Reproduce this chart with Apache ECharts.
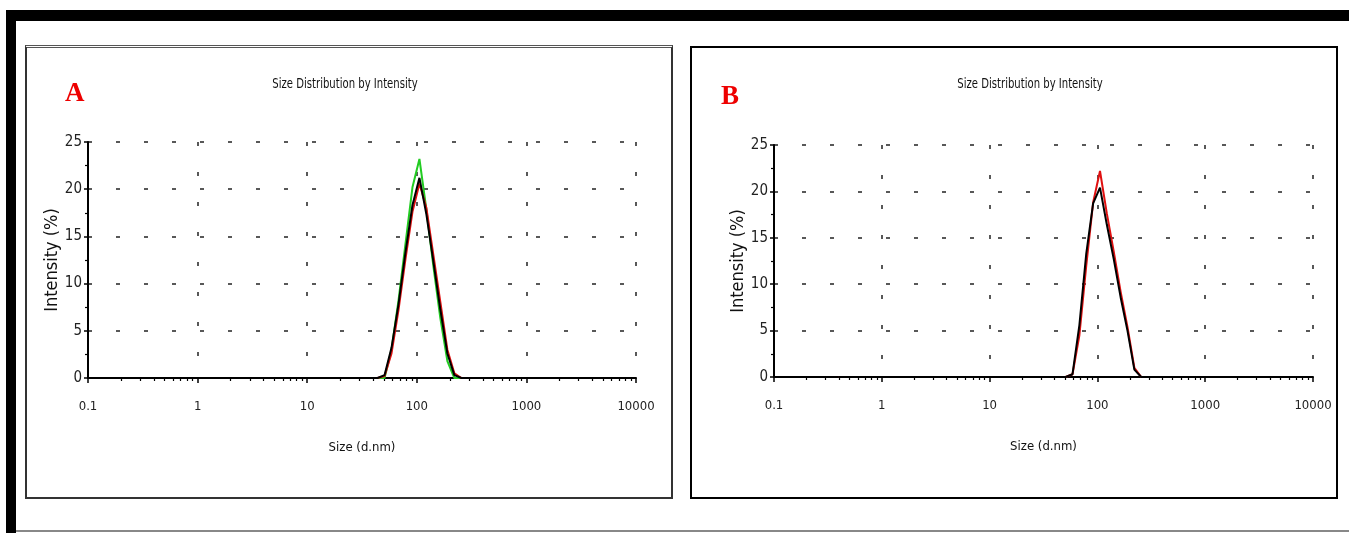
<!DOCTYPE html>
<html>
<head>
<meta charset="utf-8">
<script src="https://cdn.jsdelivr.net/npm/echarts@6/dist/echarts.min.js"></script>
<style>
  html, body { margin: 0; padding: 0; background: #fff; }
  #wrap { position: relative; width: 1349px; height: 533px; overflow: hidden; background: #fff; }
  .bar { position: absolute; background: #000; }
  .box { position: absolute; box-sizing: border-box; }
  #chart { position: absolute; left: 0; top: 0; width: 1349px; height: 533px; }
</style>
</head>
<body>
<div id="wrap">
  <div class="bar" style="left:6px;top:10px;width:1343px;height:11px;"></div>
  <div class="bar" style="left:6px;top:10px;width:10px;height:523px;"></div>
  <div class="box" style="left:16px;top:530px;width:1333px;height:2px;background:#888;"></div>
  <div class="box" style="left:25px;top:45px;width:648px;height:454px;border:2px solid #333;border-top:3px double #555;"></div>
  <div class="box" style="left:690px;top:46px;width:648px;height:453px;border:2px solid #000;"></div>
  <div id="chart"></div>
</div>
<script>
// DLS size bins (d.nm)
const sizes = [0.4, 43.82, 50.75, 58.77, 68.06, 78.82, 91.28, 105.7, 122.4, 141.8, 164.2, 190.1, 220.2, 255.0, 10000];
// Panel A intensities (%)
const aGreen = [0, 0, 0, 3.0, 8.2, 14.2, 20.2, 23.2, 17.8, 11.8, 6.3, 1.8, 0, 0, 0];
const aRed   = [0, 0, 0.2, 2.6, 7.2, 12.6, 17.6, 20.6, 18.0, 13.0, 8.0, 3.0, 0.5, 0, 0];
const aBlack = [0, 0, 0.3, 3.2, 7.8, 13.3, 18.3, 21.2, 17.3, 12.3, 7.2, 2.6, 0.3, 0, 0];
// Panel B intensities (%)
const bRed   = [0, 0, 0, 0.3, 4.5, 12.0, 18.8, 22.2, 17.6, 13.5, 9.2, 5.4, 1.0, 0, 0];
const bBlack = [0, 0, 0, 0.3, 5.6, 13.3, 18.7, 20.4, 16.4, 12.7, 8.6, 5.0, 0.8, 0, 0];
// axis ticks
const xMajor = [0.1, 1, 10, 100, 1000, 10000];
const xMinor = [0.2,0.3,0.4,0.5,0.6,0.7,0.8,0.9, 2,3,4,5,6,7,8,9, 20,30,40,50,60,70,80,90,
                200,300,400,500,600,700,800,900, 2000,3000,4000,5000,6000,7000,8000,9000];
const yTicks = [0, 5, 10, 15, 20, 25];
const titleText = 'Size Distribution by Intensity';
const xName = 'Size (d.nm)';
const yName = 'Intensity (%)';

const FONT = '"DejaVu Sans Condensed", "Liberation Sans Narrow", sans-serif';
const pairs = vals => sizes.map((s, i) => [s, vals[i]]);

function mainX(gi) {
  return {
    type: 'log', logBase: 10, gridIndex: gi, min: 0.1, max: 10000,
    name: xName, nameLocation: 'middle', nameGap: 63,
    nameTextStyle: { fontFamily: FONT, fontSize: 13, color: '#111' },
    axisLine: { lineStyle: { color: '#000', width: 2 } },
    axisTick: { show: true, length: 5, inside: false, customValues: xMajor, lineStyle: { color: '#000', width: 1.5 } },
    axisLabel: { customValues: xMajor, fontFamily: FONT, fontSize: 13, color: '#222', margin: 22,
      formatter: v => String(+(+v).toPrecision(6)) },
    splitLine: { show: true, lineStyle: { color: '#222', width: 1.5, type: [4, 26] } },
    minorTick: { show: false }
  };
}
function minorX(gi) {
  return {
    type: 'log', logBase: 10, gridIndex: gi, min: 0.1, max: 10000, position: 'bottom',
    axisLine: { show: false },
    axisTick: { show: true, length: 3, inside: false, customValues: xMinor, lineStyle: { color: '#000', width: 1.2 } },
    axisLabel: { show: false },
    splitLine: { show: false }
  };
}
function mainY(gi) {
  return {
    type: 'value', gridIndex: gi, min: 0, max: 25, interval: 5,
    name: yName, nameLocation: 'middle', nameGap: 27, nameRotate: 90,
    nameTextStyle: { fontFamily: FONT, fontSize: 18, color: '#111' },
    axisLine: { show: true, lineStyle: { color: '#000', width: 2 } },
    axisTick: { show: true, length: 4, lineStyle: { color: '#000', width: 1.5 } },
    minorTick: { show: true, splitNumber: 2, length: 3, lineStyle: { color: '#000', width: 1.2 } },
    axisLabel: { fontFamily: FONT, fontSize: 15, color: '#222', margin: 6 },
    splitLine: { show: true, lineStyle: { color: '#222', width: 1.5, type: [4, 24] } }
  };
}
function line(name, vals, color, xi, yi, z) {
  return { type: 'line', name, data: pairs(vals), xAxisIndex: xi, yAxisIndex: yi,
    showSymbol: false, symbol: 'none', z, lineStyle: { color, width: 2 }, itemStyle: { color } };
}

const chart = echarts.init(document.getElementById('chart'), null, { renderer: 'canvas' });
chart.setOption({
  animation: false,
  backgroundColor: 'transparent',
  grid: [
    { left: 88, top: 142, width: 548, height: 236 },
    { left: 774, top: 145, width: 539, height: 232 }
  ],
  xAxis: [mainX(0), mainX(1), minorX(0), minorX(1)],
  yAxis: [mainY(0), mainY(1)],
  series: [
    line('A green', aGreen, '#22cc22', 0, 0, 2),
    line('A red', aRed, '#e01010', 0, 0, 3),
    line('A black', aBlack, '#000000', 0, 0, 4),
    line('B red', bRed, '#e01010', 1, 1, 3),
    line('B black', bBlack, '#000000', 1, 1, 4)
  ],
  graphic: [
    { type: 'text', x: 345, y: 84, scaleX: 0.8, originX: 0, originY: 0,
      style: { text: titleText, fontFamily: FONT, fontSize: 14, fill: '#111', textAlign: 'center', textVerticalAlign: 'middle' } },
    { type: 'text', x: 1030, y: 84, scaleX: 0.8, originX: 0, originY: 0,
      style: { text: titleText, fontFamily: FONT, fontSize: 14, fill: '#111', textAlign: 'center', textVerticalAlign: 'middle' } },
    { type: 'text', x: 65, y: 94,
      style: { text: 'A', fontFamily: '"Liberation Serif", serif', fontWeight: 'bold', fontSize: 27, fill: '#ee0000', textVerticalAlign: 'middle' } },
    { type: 'text', x: 721, y: 97,
      style: { text: 'B', fontFamily: '"Liberation Serif", serif', fontWeight: 'bold', fontSize: 27, fill: '#ee0000', textVerticalAlign: 'middle' } }
  ]
});
</script>
</body>
</html>
